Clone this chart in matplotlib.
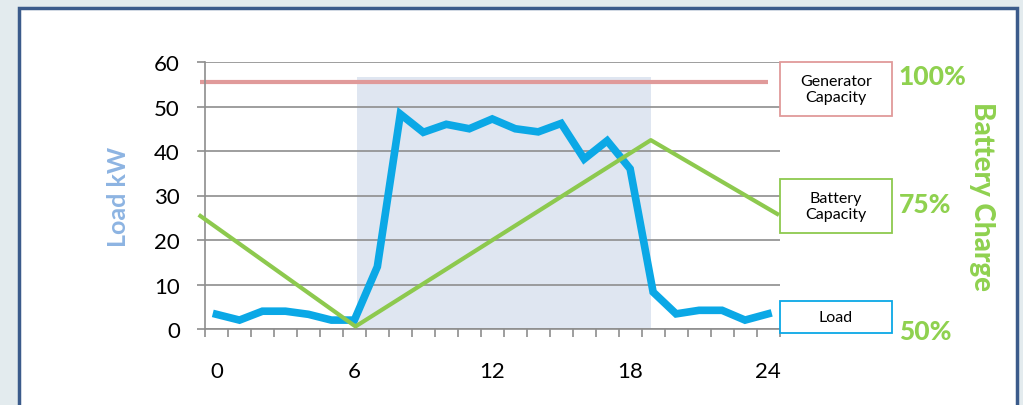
import matplotlib
matplotlib.use("Agg")
import matplotlib.pyplot as plt
from matplotlib.patches import Rectangle
import numpy as np

# ---- data ----
hours = list(range(25))
load_kw = [3.3, 2, 4, 4, 3.3, 2, 2, 14, 48.3, 44.2, 46, 45, 47.2, 45, 44.3, 46.2,
           38.2, 42.3, 36, 8.3, 3.4, 4.2, 4.2, 2, 3.4]
battery_hours = [-0.7, 6.05, 18.9, 24.4]
battery_pct = [72.2, 50.5, 87.1, 72.6]
generator_hours = [-0.7, 24.0]
generator_kw = [55.5, 55.5]
shade_start, shade_end, shade_top = 6.1, 18.9, 56.6
y_ticks = [0, 10, 20, 30, 40, 50, 60]
x_tick_pos = [0, 6, 12, 18, 24]
x_tick_labels = ["0", "6", "12", "18", "24"]
pct_ticks = [50, 75, 100]
pct_labels = ["50%", "75%", "100%"]
legend_items = ["Generator\nCapacity", "Battery\nCapacity", "Load"]

# ---- colors ----
c_load = "#0BA8E6"
c_batt = "#8DC94E"
c_gen = "#E09A9A"
c_green_txt = "#8FD14F"
c_grid = "#8E8E8E"
c_shade = "#DFE6F1"

W, H = 1023, 406
fig = plt.figure(figsize=(W / 100, H / 100), dpi=100)
fig.patch.set_facecolor("#E3EBEE")

# white panel with dark blue frame
panel = Rectangle((19 / W, -0.1), (1017 - 19) / W, (H - 9) / H + 0.1,
                  transform=fig.transFigure, facecolor="white",
                  edgecolor="#3B5B8B", linewidth=2.5, zorder=-5)
fig.patches.append(panel)

plt.rcParams['font.family'] = ['Lato', 'DejaVu Sans']

ax_l, ax_r = 205 / W, 779.5 / W
ax_t, ax_b = 63 / H, 330 / H
ax = fig.add_axes([ax_l, 1 - ax_b, ax_r - ax_l, ax_b - ax_t])
ax.set_facecolor("none")

ax.set_xlim(-0.5, 24.5)
ax.set_ylim(0, 60)

# shaded region
ax.fill_between([shade_start, shade_end], 0, shade_top, color=c_shade, zorder=0.5, linewidth=0)

# grid
ax.set_yticks(y_ticks)
ax.yaxis.grid(True, color=c_grid, linewidth=1.2, zorder=1)
ax.set_axisbelow(True)

for s in ["top", "right"]:
    ax.spines[s].set_visible(False)
for s in ["left", "bottom"]:
    ax.spines[s].set_color(c_grid)
    ax.spines[s].set_linewidth(1.2)

ax.tick_params(axis="y", length=6, color=c_grid, width=1.2, labelsize=16, pad=12, labelcolor="black")
ax.set_xticks(x_tick_pos)
ax.set_xticklabels(x_tick_labels)
ax.set_xticks(np.arange(-0.5, 25, 1), minor=True)
ax.tick_params(axis="x", which="major", length=0, labelsize=16, pad=23)
ax.tick_params(axis="x", which="minor", length=6, color=c_grid, width=1.2)

# generator line
ax.plot(generator_hours, generator_kw, color=c_gen, linewidth=3, solid_capstyle="butt",
        clip_on=False, zorder=2)

# load line
ax.plot(hours, load_kw, color=c_load, linewidth=5.5, solid_joinstyle="miter", zorder=4, clip_on=False)

ax.set_ylabel("Load kW", color="#8DB4E2", fontsize=18, fontweight="bold")
ax.yaxis.set_label_coords(-0.13, 0.5)

# secondary axis: battery charge
ax2 = ax.twinx()
ax2.set_ylim(50, 50 + 60 * 50 / 57.2)
for s in ax2.spines.values():
    s.set_visible(False)
ax2.plot(battery_hours, battery_pct, color=c_batt, linewidth=3, zorder=3, clip_on=False)
ax2.set_yticks(pct_ticks)
ax2.set_yticklabels(pct_labels)
ax2.tick_params(axis="y", length=0, pad=86, labelsize=19, labelcolor=c_green_txt)
for t in ax2.get_yticklabels():
    t.set_fontweight("black")
ax2.set_ylabel("Battery Charge", color=c_green_txt, fontsize=20, fontweight="black",
               rotation=-90, va="center")
ax2.yaxis.set_label_coords(1.353, 0.5)

# legend boxes
boxes = [(63, 117, c_gen), (180, 234, c_batt), (302, 334, c_load)]
for (top, bot, col), label in zip(boxes, legend_items):
    r = Rectangle((780 / W, 1 - bot / H), 112 / W, (bot - top) / H, transform=fig.transFigure,
                  facecolor="white", edgecolor=col, linewidth=1.3, zorder=5)
    fig.patches.append(r)
    fig.text(836 / W, 1 - (top + bot) / 2 / H, label, ha="center", va="center",
             fontsize=11.5, color="black", linespacing=1.25, zorder=6)

fig.savefig("out.png", dpi=100)
